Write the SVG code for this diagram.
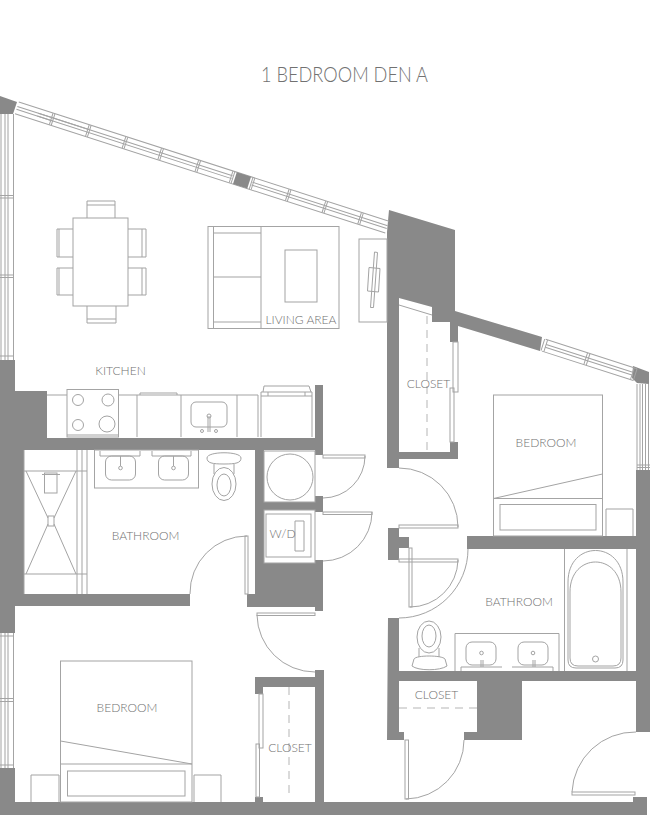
<svg xmlns="http://www.w3.org/2000/svg" width="650" height="815" viewBox="0 0 650 815">
<style>
.w{fill:#888888;stroke:none}
.l,.l *{fill:none;stroke:#a3a3a3;stroke-width:1}
.a,.a *{fill:none;stroke:#999999;stroke-width:.9}
.d{fill:none;stroke:#b5b5b5;stroke-width:1;stroke-dasharray:8 6}
text{font-family:"Lato","Liberation Sans",sans-serif;font-weight:300;fill:#707070;stroke:none;font-size:12px;text-anchor:middle}
</style>
<rect width="650" height="815" fill="#ffffff"/>
<g opacity="0.99">
<text id="title" x="344.500" y="82" style="font-size:21px" textLength="167" lengthAdjust="spacingAndGlyphs">1 BEDROOM DEN A</text>

<g id="walls">
<path class="w" d="M0 96L17 102L13 114H0Z"/>
<path class="w" d="M0 360H15V391H47V438H315V385H323V455H315V450H264V502H315V496H323V512H315V510H264V563H315V560H323V611H315V607H247V594H255V450H24V594H190V606H15V633H0Z"/>
<path class="w" d="M0 768H15V802H633V797H647V815H0Z"/>
<path class="w" d="M389 210L455 230V311L542 337L540 351L458 326V342H450V322H432V307L399 298V452H450V442H458V459H399V468H387V232Z"/>
<path class="w" d="M633 366L649 372V384L637 383L632 378Z"/>
<path class="w" d="M636 470H650V732H636V549H467V536H636Z"/>
<path class="w" d="M388 528H399V537H409V548H399V560H388Z"/>
<path class="w" d="M388 618H399V671H636V681H522V740H464V732H477V681H399V732H404V740H387Z"/>
<path class="w" d="M255 677H315V670H324V802H315V687H263V694H255Z"/>
<rect class="w" x="255" y="797" width="8" height="5"/>
</g>

<g id="windows" class="l">
<g transform="translate(15 107.300) rotate(17.850)">
<path d="M2 -6.200H391M2 6.200H391M24 -1.500H228M24 1.500H228M249 -1.500H391M249 1.500H391"/>
<path d="M2 -1.500H39M2 1.500H39M39 -1.500H77"/>
<path d="M38 -6V6M40 -6V6M76 -6V6M78 -6V6M114.500 -6V6M116.500 -6V6M152 -6V6M154 -6V6M191 -6V6M193 -6V6M227 -6V6M229 -6V6M248 -6V6M250 -6V6M286 -6V6M288 -6V6M324.500 -6V6M326.500 -6V6M362 -6V6M364 -6V6"/>
<rect x="231" y="-6.200" width="15" height="12.400" style="fill:#888888;stroke:none"/>
</g>
<path d="M1 114V360M5 114V360M8 114V360M13.500 114V360M0 195.500H13.500M0 198H13.500M0 275H13.500M0 277.500H13.500M0 356H13.500"/>
<path d="M1 633V768M5 633V768M8 633V768M13.500 633V768M0 698.500H13.500M0 701.500H13.500M0 765H13.500M0 636H13.500"/>
<g transform="translate(540 344) rotate(17.800)">
<path d="M4 -6.200H100M4 6.200H100M6 -1.500H97M6 1.500H97"/>
<path d="M3 -6V6M6 -6V6M48 -6V6M50.500 -6V6M97 -6V6M100 -6V6"/>
</g>
<path d="M637 384V470M640 384V470M642.500 384V470M645.500 384V470M648.500 384V470M637 465H650M637 467.500H650"/>
</g>

<g id="connectors">
<g class="a">
<path d="M399 468A59 59 0 0 1 458 527"/>
<path d="M458 560A48 48 0 0 1 410 607"/>
<path d="M468 549A69 69 0 0 1 399 618"/>
<path d="M365 456A42 42 0 0 1 323 498"/>
<path d="M372 512A49 49 0 0 1 323 561"/>
<path d="M247 536A57 57 0 0 0 190 594"/>
<path d="M257 615A58 58 0 0 0 315 672"/>
<path d="M464 740A59 59 0 0 1 406 799"/>
<path d="M636 732A63 63 0 0 0 572 792"/>
</g>
<g class="l">
<rect x="323" y="455" width="42" height="3"/>
<rect x="323" y="512" width="49" height="2.500"/>
<rect x="245" y="536" width="3" height="58"/>
<rect x="257" y="613" width="58" height="2.500"/>
<rect x="399" y="525" width="59" height="3"/>
<rect x="399" y="559" width="59" height="3"/>
<rect x="409" y="548" width="3" height="59"/>
<rect x="405" y="740" width="3.500" height="59"/>
<rect x="572" y="792" width="63" height="3"/>
<rect x="453" y="342" width="5" height="50"/>
<rect x="450" y="388" width="4" height="54"/>
<rect x="259" y="694" width="4" height="54"/>
<rect x="256" y="744" width="3.500" height="53"/>
</g>
<path class="d" d="M427 316V452M289 687V797M399 708H477"/>
<path class="l" d="M399 305L432 315"/>
</g>

<g id="dining" class="l">
<rect x="73" y="218" width="55" height="88"/>
<path d="M87 218V201H115V218M87 205H115"/>
<path d="M87 306V323H116V306M87 319H116"/>
<path d="M73 229H57V257H73M59 229V257M73 268H57V295H73M59 268V295"/>
<path d="M128 229H146V257H128M142 229V257M128 268H146V295H128M142 268V295"/>
</g>

<g id="living" class="l">
<rect x="208" y="226.500" width="131" height="102"/>
<path d="M213.500 226.500V328.500M261 226.500V328.500M213.500 233H261M213.500 277H261M213.500 322H261"/>
<rect x="285" y="250" width="32" height="52"/>
<rect x="359" y="239" width="28" height="83"/>
<path d="M374.500 252L377.500 252.500L373.500 307.500H370.500Z"/>
<path d="M369 267.500L380 268.500L378.500 292L367.500 291Z"/>
<text x="301" y="323.500" style="fill:#707070;stroke:none">LIVING AREA</text>
</g>

<g id="kitchen" class="l">
<path d="M47 395H67M118 395H258V437M137 395V437M181 395V437M237 395V437"/>
<rect x="67" y="389.500" width="51.500" height="47.500"/>
<path d="M67 435H118"/>
<circle cx="78" cy="400" r="5.500"/>
<circle cx="108" cy="400" r="6"/>
<circle cx="78" cy="425" r="5.500"/>
<circle cx="107" cy="424" r="8"/>
<path d="M140 395V393H177V395"/>
<rect x="191" y="402" width="36" height="25" rx="5"/>
<path d="M208 416V432M210 416V432"/>
<circle cx="209" cy="416" r="2"/>
<circle cx="202" cy="431" r="1.500"/>
<circle cx="216" cy="431" r="1.500"/>
<path d="M261 437V392H312V437M261 396H312M263 392L264 386H309L311 392M268 392V396M305 392V396"/>
<text x="120.500" y="375" style="fill:#707070;stroke:none">KITCHEN</text>
</g>

<g id="bath1" class="l">
<rect x="94.500" y="450" width="104" height="38"/>
<rect x="105.500" y="456" width="30" height="24" rx="6"/>
<rect x="158.500" y="456" width="30" height="24" rx="6"/>
<path d="M100 456V451M100 456H140V451M152 456V451M152 456H191V451M120.500 456V466M173.500 456V466"/>
<circle cx="120.500" cy="468" r="1.800"/>
<circle cx="173.500" cy="468" r="1.800"/>
<path d="M207 458C207 451 241 451 241 458C241 463 236 464 224 464C212 464 207 463 207 458Z"/>
<ellipse cx="224" cy="484" rx="12" ry="16.500"/>
<ellipse cx="224" cy="485" rx="7" ry="11"/>
<path d="M214 464V474M234 464V474"/>
<path d="M24 471H87M24 574H87M77 450V594M82 450V594M87 450V594M24 450V594M26 471L48 518M76 471L54 518M26 574L48 524M76 574L54 524"/>
<rect x="48" y="516" width="6" height="10"/>
<rect x="44.500" y="473" width="12.500" height="20"/>
<path d="M42 474.500H60"/>
<text x="145.500" y="539.500" style="fill:#707070;stroke:none">BATHROOM</text>
</g>

<g id="laundry" class="l">
<rect x="264" y="451" width="51" height="51"/>
<circle cx="290" cy="477" r="23"/>
<rect x="264" y="510" width="51" height="53"/>
<rect x="266" y="514" width="45" height="43"/>
<path d="M295 521H304V551H295Z"/>
<text x="282.500" y="538" style="fill:#707070;stroke:none">W/D</text>
</g>

<g id="bedroom1" class="l">
<rect x="60.500" y="661" width="131.500" height="141"/>
<path d="M60.500 741L192 764M60.500 764H192"/>
<rect x="67.500" y="771" width="117.500" height="25"/>
<path d="M31 802V775H59V802M194 802V775H221V802"/>
<text x="127" y="712" style="fill:#707070;stroke:none">BEDROOM</text>
</g>

<g id="bedroom2" class="l">
<rect x="493.500" y="395" width="109" height="141"/>
<path d="M493.500 498.500L602.500 474M493.500 498.500H602.500"/>
<rect x="500" y="504.500" width="96" height="25.500"/>
<path d="M606 536V509H633V536"/>
<text x="546" y="447" style="fill:#707070;stroke:none">BEDROOM</text>
</g>

<g id="bath2" class="l">
<path d="M564.500 549V671M627 549V671"/>
<path d="M568 582C568 540 623 540 623 582V660Q623 668 615 668H576Q568 668 568 660Z"/>
<path d="M570 592C570 552 621 552 621 592V658Q621 666 613 666H578Q570 666 570 658Z"/>
<circle cx="595.500" cy="659" r="3"/>
<path d="M455 671V633.500H559V671"/>
<rect x="466" y="642" width="30" height="23" rx="6"/>
<rect x="518" y="642" width="30" height="23" rx="6"/>
<path d="M461 671V667H502M512 667H553V671M481 660V667M483 660V667M533 660V667M535 660V667"/>
<circle cx="481.500" cy="653" r="1.800"/>
<circle cx="533" cy="653" r="1.800"/>
<ellipse cx="429" cy="637" rx="12" ry="16"/>
<ellipse cx="429" cy="636" rx="7" ry="11"/>
<path d="M419 648V657M439 648V657M414 659C416 655 442 655 445 659L447 666C440 671 418 671 412 666Z"/>
<text x="519" y="606" style="fill:#707070;stroke:none">BATHROOM</text>
</g>

<g id="closets">
<text x="428.500" y="388">CLOSET</text>
<text x="290" y="751.500">CLOSET</text>
<text x="436.500" y="699">CLOSET</text>
</g>
</g>
</svg>
